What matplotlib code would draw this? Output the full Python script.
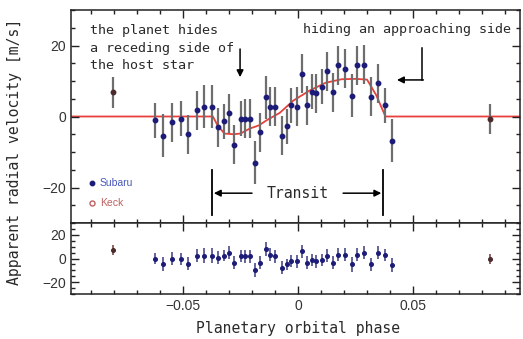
import matplotlib
matplotlib.use('Agg')
import matplotlib.pyplot as plt
from matplotlib.ticker import MultipleLocator

# Subaru radial velocities (phase, velocity m/s, error m/s, residual m/s)
subaru_phase = [-0.0620, -0.0587, -0.0550, -0.0510, -0.0480, -0.0440, -0.0410, -0.0374,
                -0.0350, -0.0320, -0.0300, -0.0280, -0.0250, -0.0230, -0.0210, -0.0187,
                -0.0165, -0.0140, -0.0120, -0.0100, -0.0070, -0.0050, -0.0030, -0.0004,
                0.0017, 0.0040, 0.0060, 0.0080, 0.0104, 0.0126, 0.0150, 0.0174,
                0.0204, 0.0235, 0.0257, 0.0287, 0.0317, 0.0348, 0.0378, 0.0410]
subaru_rv = [-1.1, -5.4, -1.6, -0.6, -5.0, 1.7, 2.8, 2.8,
             -3.0, -1.4, 0.9, -8.0, -0.6, -0.6, -0.6, -13.0,
             -4.5, 5.4, 2.8, 2.8, -5.4, -2.8, 3.1, 2.8,
             12.0, 3.1, 7.0, 6.5, 8.4, 12.7, 6.8, 14.4,
             13.5, 5.9, 14.4, 14.6, 5.6, 9.3, 3.1, -6.8]
subaru_err = [5.0, 6.0, 5.5, 5.0, 5.5, 5.5, 6.0, 6.0,
              5.5, 5.0, 5.5, 5.5, 5.0, 5.5, 5.5, 6.0,
              5.5, 6.0, 5.5, 5.5, 5.5, 5.0, 5.0, 5.5,
              5.5, 5.5, 5.0, 5.5, 5.0, 5.5, 5.5, 5.5,
              5.5, 6.0, 5.5, 5.5, 5.5, 5.5, 5.0, 6.0]
subaru_res = [0.0, -4.4, -0.3, -0.3, -4.4, 2.5, 2.5, 2.5,
              0.5, 2.5, 4.7, -3.6, 1.9, 1.9, 1.9, -10.0,
              -3.6, 8.0, 3.3, 1.9, -7.8, -5.0, -2.0, -2.2,
              6.1, -3.6, -1.0, -2.2, -1.0, 2.5, -3.6, 3.3,
              3.3, -5.0, 3.3, 4.7, -5.0, 5.0, 3.3, -5.8]

# Keck
keck_phase = [-0.0804, 0.0835]
keck_rv = [6.8, -0.6]
keck_err = [4.3, 4.2]
keck_res = [7.0, -0.8]

# Rossiter-McLaughlin model curve
model_phase = [-0.10, -0.037, -0.035, -0.032, -0.028, -0.025, -0.021, -0.017, -0.0135,
               -0.008, -0.002, 0.005, 0.012, 0.019, 0.025, 0.030, 0.034, 0.038, 0.10]
model_rv = [0.0, 0.0, -2.5, -4.8, -5.0, -4.8, -3.4, -2.5, -1.0,
            1.0, 4.5, 7.3, 9.5, 10.5, 10.6, 10.4, 6.0, 0.0, 0.0]

transit_start, transit_end = -0.0374, 0.0370

mono = 'DejaVu Sans Mono'
plt.rcParams['font.family'] = ['Liberation Sans', 'DejaVu Sans']

fig = plt.figure(figsize=(5.23, 3.39), dpi=100)
gs = fig.add_gridspec(2, 1, height_ratios=[3, 1], hspace=0,
                      left=71/523, right=520/523, top=1-10/339, bottom=1-294/339)
ax = fig.add_subplot(gs[0])
ax2 = fig.add_subplot(gs[1], sharex=ax)

navy = '#1c1c78'
err_col = '#6e6e6e'

ax.plot(model_phase, model_rv, color='#e8403a', lw=1.3, zorder=1)
ax.errorbar(subaru_phase, subaru_rv, yerr=subaru_err, fmt='o', ms=3.2, color=navy,
            ecolor=err_col, elinewidth=1.6, capsize=0, zorder=3)
ax.errorbar(keck_phase, keck_rv, yerr=keck_err, fmt='o', ms=3.2, color='#4a2a2a',
            ecolor=err_col, elinewidth=1.6, capsize=0, zorder=3)

ax2.errorbar(subaru_phase, subaru_res, yerr=subaru_err, fmt='o', ms=2.6, color=navy,
             ecolor='#4a4a8a', elinewidth=1.2, capsize=0)
ax2.errorbar(keck_phase, keck_res, yerr=keck_err, fmt='o', ms=2.6, color='#4a2a2a',
             ecolor='#7a4a4a', elinewidth=1.2, capsize=0)

ax.set_xlim(-0.0987, 0.0965)
ax.set_ylim(-30, 30)
ax2.set_ylim(-30, 30)

for a in (ax, ax2):
    a.xaxis.set_major_locator(MultipleLocator(0.05))
    a.xaxis.set_minor_locator(MultipleLocator(0.01))
    a.yaxis.set_major_locator(MultipleLocator(20))
    a.yaxis.set_minor_locator(MultipleLocator(5))
    a.tick_params(which='both', direction='in', top=True, right=True, width=1.0,
                  colors='#222222', labelcolor='#333333', labelsize=10)
    a.tick_params(which='major', length=6)
    a.tick_params(which='minor', length=3)
    for s in a.spines.values():
        s.set_linewidth(1.1)
        s.set_color('#222222')
ax.tick_params(labelbottom=False)
ax2.set_xticks([-0.05, 0, 0.05])
ax2.set_xticklabels(['\u22120.05', '0', '0.05'])

# annotations
tcol = '#2a2a2a'
ax.text(-0.0904, 19.2, 'the planet hides\na receding side of\nthe host star',
        family=mono, fontsize=9.6, color=tcol, ha='left', va='center', linespacing=1.45)
ax.annotate('', xy=(-0.0252, 10.3), xytext=(-0.0252, 19.8),
            arrowprops=dict(arrowstyle='-|>', color='k', lw=1.1, mutation_scale=10))
ax.text(0.0022, 24.6, 'hiding an approaching side', family=mono, fontsize=9.6,
        color=tcol, ha='left', va='center')
ax.plot([0.0539, 0.0539], [19.3, 10.3], color='k', lw=1.1)
ax.annotate('', xy=(0.0430, 10.3), xytext=(0.0545, 10.3),
            arrowprops=dict(arrowstyle='-|>', color='k', lw=1.1, mutation_scale=10,
                            shrinkA=0, shrinkB=0))

# transit marker
ax.plot([transit_start, transit_start], [-15.2, -27.8], color='k', lw=1.3)
ax.plot([transit_end, transit_end], [-15.2, -27.8], color='k', lw=1.3)
ax.annotate('', xy=(transit_start + 0.0008, -21.6), xytext=(-0.0200, -21.6),
            arrowprops=dict(arrowstyle='-|>', color='k', lw=1.1, mutation_scale=10,
                            shrinkA=0, shrinkB=0))
ax.annotate('', xy=(transit_end - 0.0008, -21.6), xytext=(0.0196, -21.6),
            arrowprops=dict(arrowstyle='-|>', color='k', lw=1.1, mutation_scale=10,
                            shrinkA=0, shrinkB=0))
ax.text(0.0, -21.6, 'Transit', family=mono, fontsize=10.6, color=tcol,
        ha='center', va='center')

# legend
ax.plot([-0.0896], [-18.7], 'o', ms=3.2, color=navy)
ax.text(-0.0862, -18.7, 'Subaru', fontsize=7.5, color='#4858b8', ha='left', va='center')
ax.plot([-0.0896], [-24.4], 'o', ms=3.6, mfc='none', mec='#c06060', mew=1.0)
ax.text(-0.0862, -24.4, 'Keck', fontsize=7.5, color='#c06060', ha='left', va='center')

fig.text(15/523, 1-152/339, 'Apparent radial velocity [m/s]', family=mono,
         fontsize=10.6, color=tcol, rotation=90, ha='center', va='center')
fig.text(298/523, 1-328/339, 'Planetary orbital phase', family=mono,
         fontsize=10.6, color=tcol, ha='center', va='center')

fig.savefig('out.png', dpi=100)
